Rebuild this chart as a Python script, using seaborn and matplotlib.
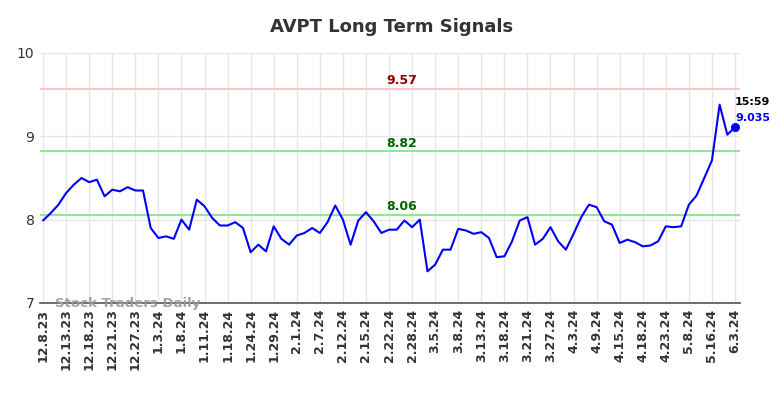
import matplotlib
matplotlib.use("Agg")
import matplotlib.pyplot as plt
import seaborn as sns
import numpy as np
import pandas as pd

tick_labels = ["12.8.23", "12.13.23", "12.18.23", "12.21.23", "12.27.23", "1.3.24", "1.8.24",
               "1.11.24", "1.18.24", "1.24.24", "1.29.24", "2.1.24", "2.7.24", "2.12.24",
               "2.15.24", "2.22.24", "2.28.24", "3.5.24", "3.8.24", "3.13.24", "3.18.24",
               "3.21.24", "3.27.24", "4.3.24", "4.9.24", "4.15.24", "4.18.24", "4.23.24",
               "5.8.24", "5.16.24", "6.3.24"]

prices = [7.99, 8.08, 8.18, 8.32, 8.42, 8.50, 8.45, 8.48, 8.28, 8.36,
          8.34, 8.39, 8.35, 8.35, 7.90, 7.78, 7.80, 7.77, 8.00, 7.88,
          8.24, 8.16, 8.02, 7.93, 7.93, 7.97, 7.90, 7.61, 7.70, 7.62,
          7.92, 7.77, 7.70, 7.81, 7.84, 7.90, 7.84, 7.97, 8.17, 8.00,
          7.70, 7.99, 8.09, 7.98, 7.84, 7.88, 7.88, 7.99, 7.91, 8.00,
          7.38, 7.46, 7.64, 7.64, 7.89, 7.87, 7.83, 7.85, 7.78, 7.55,
          7.56, 7.74, 7.99, 8.03, 7.70, 7.77, 7.91, 7.74, 7.64, 7.83,
          8.03, 8.18, 8.15, 7.98, 7.94, 7.72, 7.76, 7.73, 7.68, 7.69,
          7.74, 7.92, 7.91, 7.92, 8.18, 8.29, 8.50, 8.71, 9.38, 9.02,
          9.11]

levels = [9.57, 8.82, 8.06]
level_labels = ["9.57", "8.82", "8.06"]
last_time = "15:59"
last_label = "9.035"
title = "AVPT Long Term Signals"
watermark = "Stock Traders Daily"
y_ticks = [7, 8, 9, 10]

sns.set_theme(style="white")
plt.rcParams['font.family'] = ['DejaVu Sans']

df = pd.DataFrame({"idx": np.arange(len(prices)), "price": prices})

fig = plt.figure(figsize=(7.84, 3.98), dpi=100)
ax = fig.add_axes([40/784, 1 - 303/398, 700/784, 250/398])

ax.set_xlim(-0.4, len(prices) - 1 + 0.65)
ax.set_ylim(7, 10)

ax.set_xticks(np.arange(0, len(prices), 3))
ax.set_xticklabels(tick_labels, rotation=90, fontweight="bold", fontsize=9, color="#333333")
ax.set_yticks(y_ticks)
ax.set_yticklabels([str(v) for v in y_ticks], fontsize=10, color="#333333")
ax.grid(True, color="#e6e6e6", linewidth=1)
ax.set_axisbelow(True)
for s in ["top", "right", "left"]:
    ax.spines[s].set_visible(False)
ax.spines["bottom"].set_color("#555555")
ax.spines["bottom"].set_linewidth(1.2)
ax.tick_params(axis="both", length=0, pad=4)

level_line_colors = ["#ffc8c8", "#90e890", "#90e890"]
level_text_colors = ["#8b0000", "#006400", "#006400"]
for lv, lab, lc, tc in zip(levels, level_labels, level_line_colors, level_text_colors):
    ax.axhline(lv, color=lc, linewidth=1.5, zorder=1)
    ax.text(46.6, lv + 0.02, lab, color=tc, fontsize=9, fontweight="bold",
            ha="center", va="bottom")

sns.lineplot(data=df, x="idx", y="price", ax=ax, color="#0000ff", linewidth=1.5, zorder=3)
ax.set_xlabel("")
ax.set_ylabel("")

last_x = len(prices) - 1
ax.scatter([last_x], [prices[-1]], color="#0000ff", s=30, zorder=4)
ax.text(last_x + 0.0, prices[-1] + 0.3, last_time, fontsize=8, fontweight="bold",
        color="black", ha="left", va="center")
ax.text(last_x + 0.0, prices[-1] + 0.11, last_label, fontsize=8, fontweight="bold",
        color="#0000ff", ha="left", va="center")

ax.text(1.5, 7.0, watermark, fontsize=9.5, fontweight="bold", color="#999999",
        ha="left", va="center", alpha=0.9, zorder=5)

fig.text(0.5, 1 - 27/398, title, ha="center", va="center", fontsize=13,
         fontweight="bold", color="#333333")

fig.savefig("out.png", dpi=100)
